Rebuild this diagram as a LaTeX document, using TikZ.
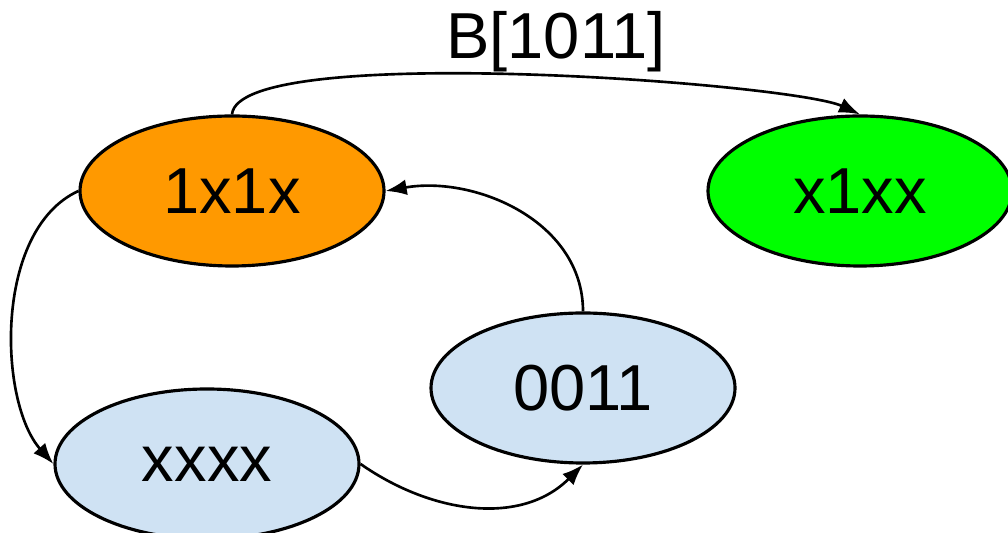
\documentclass[tikz,border=0pt]{standalone}
\usepackage{fontspec}
\setmainfont{Liberation Sans}
\usetikzlibrary{shapes.geometric,arrows.meta}
\definecolor{hotc}{HTML}{FF9900}
\definecolor{goalc}{HTML}{00FF00}
\definecolor{restc}{HTML}{CFE2F3}
\tikzstyle{state} = [
  ellipse,
  draw=black,
  line width=1.8pt,
  minimum width=6.08cm,
  minimum height=3cm,
  inner sep=0pt,
  font=\fontsize{37}{44}\selectfont,
]
\tikzstyle{trans} = [
  line width=1.5pt,
  -{Latex[length=12pt,width=9pt]},
]

\begin{document}
\begin{tikzpicture}
      \useasboundingbox (0,0) rectangle (20.16,10.66);

      % States
      \node[state, fill=hotc] (s1x1x) at (4.64,6.84) {1x1x};
      \node[state, fill=goalc] (sx1xx) at (17.2,6.84) {x1xx};
      \node[state, fill=restc] (s0011) at (11.66,2.9) {0011};
      \node[state, fill=restc] (sxxxx) at (4.14,1.38) {xxxx};

      % Transitions
      \draw[trans] (s1x1x.north) to[out=85,in=155,looseness=0.3] (sx1xx.north);
      \draw[trans] (s1x1x.west) .. controls +(-1.7,-0.78) and +(-1.1,1.24) .. (sxxxx.west);
      \draw[trans] (s0011.north) to[out=90,in=10] (s1x1x.east);
      \draw[trans] (sxxxx.east) to[out=-35,in=225] (s0011.south);

      % Label
      \node[font=\fontsize{37}{44}\selectfont] (lbl) at (11.12,9.82) {B[1011]};
    \end{tikzpicture}
\end{document}
